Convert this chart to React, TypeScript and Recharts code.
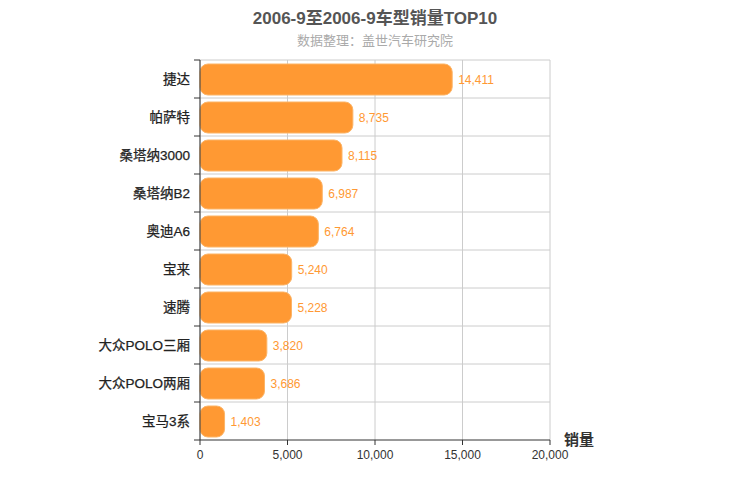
import { BarChart, Bar, XAxis, YAxis, CartesianGrid, LabelList } from 'recharts';

const models = ['捷达', '帕萨特', '桑塔纳3000', '桑塔纳B2', '奥迪A6', '宝来', '速腾', '大众POLO三厢', '大众POLO两厢', '宝马3系'];
const sales = [14411, 8735, 8115, 6987, 6764, 5240, 5228, 3820, 3686, 1403];
const xTicks = [0, 5000, 10000, 15000, 20000];

const data = models.map((name, i) => ({ name, sales: sales[i] }));

const fmt = (v: any) => Number(v).toLocaleString('en-US');
const FONT = 'Arial, "Liberation Sans", "Noto Sans CJK SC", sans-serif';

// label in the band centre, tick line on the band edges
const CategoryTick = ({ x, y, payload, index }: any) => {
  const half = 380 / models.length / 2;
  return (
    <g>
      <line x1={x + 2} x2={x + 8} y1={y - half} y2={y - half} stroke="#333" />
      {index === models.length - 1 && <line x1={x + 2} x2={x + 8} y1={y + half} y2={y + half} stroke="#333" />}
      <text x={x - 2} y={y} dy={5} textAnchor="end" fill="#222" fontSize={13.5} fontFamily={FONT} stroke="#222" strokeWidth={0.25}>
        {payload.value}
      </text>
    </g>
  );
};

export default function App() {
  return (
    <div style={{ position: 'absolute', left: 0, top: 0, width: 750, height: 500, background: '#fff', fontFamily: FONT }}>
      <div style={{ position: 'absolute', left: 0, width: 750, top: 4, textAlign: 'center', fontSize: 17, fontWeight: 'bold', color: '#555' }}>
        2006-9至2006-9车型销量TOP10
      </div>
      <div style={{ position: 'absolute', left: 0, width: 750, top: 30, textAlign: 'center', fontSize: 13, color: '#aaa' }}>
        数据整理：盖世汽车研究院
      </div>
      <div style={{ position: 'absolute', left: 564, top: 428, fontSize: 15, fontWeight: 'bold', color: '#333' }}>销量</div>
      <BarChart
        width={750}
        height={500}
        data={data}
        layout="vertical"
        margin={{ top: 60, right: 200, left: 0, bottom: 30 }}
        barSize={31}
      >
        <CartesianGrid
          stroke="#ccc"
          horizontalCoordinatesGenerator={({ offset }: any) =>
            models.map((_, i) => offset.top + (i * offset.height) / models.length)
          }
        />
        <XAxis
          type="number"
          domain={[0, 20000]}
          ticks={xTicks}
          tickFormatter={fmt}
          stroke="#333"
          height={30}
          tickSize={5}
          tickMargin={5}
          tick={{ fill: '#333', fontSize: 12 }}
        />
        <YAxis
          type="category"
          dataKey="name"
          width={200}
          stroke="#333"
          tickLine={false}
          tick={<CategoryTick />}
          interval={0}
        />
        <Bar dataKey="sales" fill="#FF9933" stroke="#fcb467" radius={8} isAnimationActive={false}>
          <LabelList dataKey="sales" position="right" offset={6} formatter={fmt} fill="#FF9933" fontSize={12} />
        </Bar>
      </BarChart>
    </div>
  );
}
